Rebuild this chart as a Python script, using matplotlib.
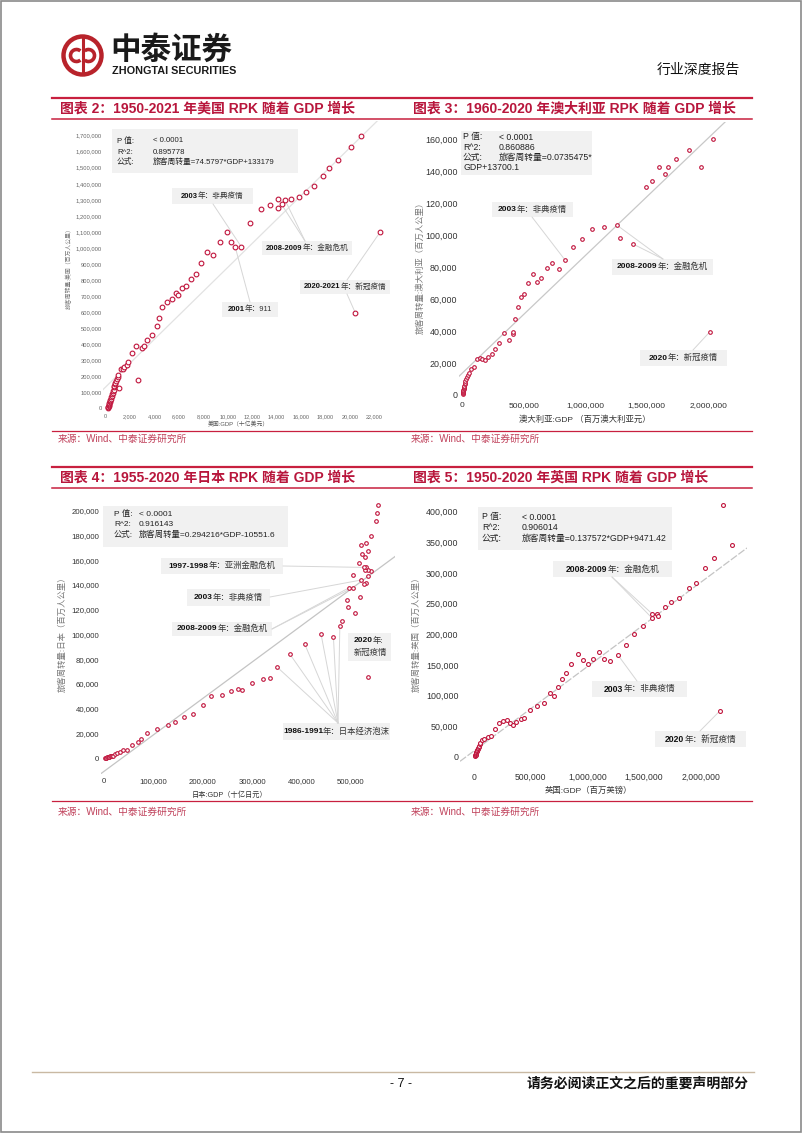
import matplotlib
matplotlib.use("Agg")
import matplotlib.pyplot as plt
import matplotlib.ticker as mticker
from matplotlib.patches import Rectangle, Circle, Arc

plt.rcParams['font.family'] = ['Liberation Sans', 'Noto Sans CJK SC']
plt.rcParams['axes.unicode_minus'] = False

# ---------------- data ----------------
# Chart 2: USA (GDP bn USD, RPK mn km), 1950-2021
us_gdp = [170, 190, 210, 230, 250, 280, 300, 330, 360, 390, 420, 450, 490, 530, 570,
          610, 650, 680, 720, 760, 800, 870, 930, 980, 1030, 1090,
          1250, 1440, 1520, 1720, 1850, 2150, 2460, 2650, 2980, 3100, 3420, 3800, 4170,
          4340, 4640, 5020, 5430, 5760, 5900, 6250, 6580, 7000, 7370, 7800, 8270, 8760,
          9330, 9930, 10250, 10600, 11100, 11850, 12700, 13450, 14100, 14400, 14100,
          14700, 15200, 15850, 16400, 17100, 17800, 18250, 19050, 20100, 20900,
          20440, 22460]
us_rpk = [2000, 6000, 11000, 16000, 21000, 28000, 33000, 40000, 47000, 54000, 61000,
          69000, 78000, 88000, 97000, 107000, 117000, 130000, 140000, 150000, 158000,
          170000, 185000, 195000, 208000, 125000,
          243000, 245000, 259000, 272000, 290000, 347000, 389000, 174000, 377000, 390000,
          426000, 456000, 513000,
          565000, 634000, 661000, 682000, 721000, 707000, 752000, 763000, 808000, 837000,
          908000, 975000, 954000, 1037000, 1101000, 1035000, 1008000, 1008000, 1157000,
          1241000, 1270000, 1249000, 1272000, 1307000, 1297000, 1305000, 1320000,
          1349000, 1386000, 1448000, 1500000, 1550000, 1627000, 1700000,
          596000, 1097000]

# Chart 3: Australia (GDP mn AUD, RPK mn km), 1960-2020
au_gdp = [5000, 6000, 7000, 8000, 9000, 10000, 12000, 14000, 16000, 19000, 22000, 26000,
          31000, 37000, 44000, 51000, 70000, 95000, 117000, 144000, 163000, 184000,
          211000, 238000, 266000, 298000, 339000, 379000, 409000, 409000, 428000, 453000,
          480000, 504000, 537000, 572000, 604000, 640000, 686000, 732000, 786000, 835000,
          902000, 973000, 1051000, 1149000, 1255000, 1282000, 1387000, 1496000, 1545000,
          1602000, 1648000, 1669000, 1734000, 1840000, 1940000, 2041000, 2011000]
au_rpk = [600, 1200, 1800, 2400, 3000, 3600, 4300, 5000, 5800, 6700, 7700, 8800,
          10000, 11300, 12500, 13600, 16100, 17700, 22300, 22900, 22300, 21700,
          23600, 25400, 28600, 32300, 38600, 34600, 38400, 39400, 47800, 54800,
          61300, 63200, 70100, 75700, 70900, 73400, 79200, 82400, 79000, 84500,
          92400, 97600, 104100, 104900, 106400, 98400, 94500, 130300, 133900,
          142400, 138300, 142400, 147600, 153500, 142900, 160000, 39400]

# Chart 4: Japan (GDP bn JPY, RPK mn km), 1955-2020
jp_gdp = [2000, 3500, 5000, 6500, 8000, 9500, 11000, 12500, 14000, 16000, 18000, 22000,
          27000, 32000, 39000, 47000, 57000, 68000, 74000, 87000, 108000, 129000, 143000,
          162000, 181000, 200000, 216000, 239000, 257000, 271000, 280000, 299000, 323000,
          336000, 350000, 377000, 407000, 440000, 465000, 478000, 482000, 509000, 495000,
          492000, 519000, 497000, 504000, 532000, 526000, 521000, 505000, 536000, 541000,
          536000, 529000, 532000, 526000, 516000, 528000, 523000, 521000, 532000, 536000,
          541000, 551000, 554000, 556000, 536000]
jp_rpk = [200, 350, 500, 650, 800, 1000, 1200, 1500, 1800, 2000, 2200, 3200,
          4600, 4800, 6500, 7000, 10500, 13500, 15900, 20200, 23400, 26900, 29600,
          33400, 36100, 43100, 50600, 51100, 54100, 56000, 55200, 61100, 64100,
          64600, 74000, 84000, 92100, 100100, 97700, 107100, 110900, 117600, 122500,
          127900, 130600, 137800, 137800, 141900, 140800, 144000, 148100, 147500, 151300,
          152100, 152100, 154200, 154200, 158000, 162900, 165000, 172300, 174200, 167400,
          179800, 191700, 197800, 204600, 65400]

# Chart 5: UK (GDP mn GBP, RPK mn km), 1950-2020
uk_gdp = [11000, 13000, 15000, 17000, 19000, 21000, 24000, 27000, 30000, 33000, 37000,
          41000, 45000, 49000, 53000, 71000, 91000, 121000, 147000, 185000, 221000,
          253000, 288000, 318000, 347000, 371000, 412000, 444000, 494000, 553000, 618000,
          671000, 706000, 738000, 774000, 812000, 856000, 915000, 959000, 1003000,
          1047000, 1106000, 1150000, 1200000, 1268000, 1338000, 1415000, 1494000,
          1568000, 1574000, 1612000, 1626000, 1685000, 1738000, 1812000, 1894000,
          1956000, 2038000, 2118000, 2279000, 2200000, 2171000]
uk_rpk = [1000, 2000, 3000, 4000, 5500, 7000, 8500, 10000, 11500, 13000, 15000,
          16500, 18000, 20000, 21800, 27200, 28300, 32600, 33700, 44600, 54400,
          58200, 59800, 54400, 51100, 56000, 62000, 63100, 75600, 82700, 88100,
          104500, 99600, 113700, 126200, 137100, 151300, 167000, 157800, 151800,
          160000, 170300, 159400, 156200, 166500, 182300, 200200, 213300,
          226900, 232900, 232900, 229600, 243700, 251900, 259500, 275800,
          284000, 308500, 324800, 345500, 410800, 75100]

# regression fits (slope, intercept)
us_fit = (74.5797, 133179)
au_fit = (0.0735475, 13700.1)
jp_fit = (0.294216, -10551.6)
uk_fit = (0.137572, 9471.42)

# ticks
us_xticks = [0, 2000, 4000, 6000, 8000, 10000, 12000, 14000, 16000, 18000, 20000, 22000]
us_yticks = [0, 100000, 200000, 300000, 400000, 500000, 600000, 700000, 800000, 900000,
             1000000, 1100000, 1200000, 1300000, 1400000, 1500000, 1600000, 1700000]
au_xticks = [0, 500000, 1000000, 1500000, 2000000]
au_yticks = [0, 20000, 40000, 60000, 80000, 100000, 120000, 140000, 160000]
jp_xticks = [0, 100000, 200000, 300000, 400000, 500000]
jp_yticks = [0, 20000, 40000, 60000, 80000, 100000, 120000, 140000, 160000, 180000, 200000]
uk_xticks = [0, 500000, 1000000, 1500000, 2000000]
uk_yticks = [0, 50000, 100000, 150000, 200000, 250000, 300000, 350000, 400000]

# texts
titles = ["图表 2：1950-2021 年美国 RPK 随着 GDP 增长",
          "图表 3：1960-2020 年澳大利亚 RPK 随着 GDP 增长",
          "图表 4：1955-2020 年日本 RPK 随着 GDP 增长",
          "图表 5：1950-2020 年英国 RPK 随着 GDP 增长"]
source_text = "来源：Wind、中泰证券研究所"
us_stats = [("P 值:", "< 0.0001"), ("R^2:", "0.895778"), ("公式:", "旅客周转量=74.5797*GDP+133179")]
au_stats = [("P 值:", "< 0.0001"), ("R^2:", "0.860886"), ("公式:", "旅客周转量=0.0735475*"), ("", "GDP+13700.1")]
jp_stats = [("P 值:", "< 0.0001"), ("R^2:", "0.916143"), ("公式:", "旅客周转量=0.294216*GDP-10551.6")]
uk_stats = [("P 值:", "< 0.0001"), ("R^2:", "0.906014"), ("公式:", "旅客周转量=0.137572*GDP+9471.42")]

# annotation targets (data coords)
us_t2003 = [(11100, 1008000)]
us_t2008 = [(14400, 1272000), (14700, 1297000)]
us_t2001 = [(10600, 1008000)]
us_tcovid = [(22460, 1097000), (20440, 596000)]
au_t2003 = [(835000, 84500)]
au_t2008 = [(1255000, 106400), (1387000, 94500)]
au_tcovid = [(2011000, 39400)]
jp_t1997 = [(526000, 154200)]
jp_t2003 = [(521000, 144000)]
jp_t2008 = [(497000, 137800), (504000, 137800)]
jp_tbubble = [(350000, 74000), (377000, 84000), (407000, 92100), (440000, 100100),
              (465000, 97700), (478000, 107100)]
uk_t2008 = [(1568000, 226900), (1574000, 232900)]
uk_t2003 = [(1268000, 166500)]
uk_tcovid = [(2171000, 75100)]

# ---------------- figure ----------------
W, H = 802, 1133
fig = plt.figure(figsize=(W / 100, H / 100), dpi=100)
fig.patch.set_facecolor('white')
RED = '#c0143c'
TITLE_RED = '#b8163c'
BOXC = '#f1f1f1'
LEAD = '#d6d6d6'

ov = fig.add_axes([0, 0, 1, 1])
ov.set_xlim(0, W)
ov.set_ylim(H, 0)
ov.axis('off')
ov.set_zorder(0)
renderer = fig.canvas.get_renderer()

# page border
ov.add_patch(Rectangle((0.8, 0.8), W - 1.6, H - 1.6, fill=False, ec='#8a8a8a', lw=1.2))

# logo
ov.add_patch(Circle((82.5, 55.5), 19, fill=False, ec='#b8232b', lw=3.2))
ov.add_patch(Arc((76.5, 55.5), 12, 12, theta1=50, theta2=310, ec='#b8232b', lw=2.6))
ov.add_patch(Arc((88.5, 55.5), 12, 12, theta1=230, theta2=130, ec='#b8232b', lw=2.6))
ov.plot([82.5, 82.5], [38, 73], color='#b8232b', lw=2.2)
ov.text(110, 50.5, "中泰证券", fontsize=22, fontweight='bold', color='#1a1a1a', va='center', ha='left')
ov.text(112, 70.5, "ZHONGTAI SECURITIES", fontsize=7.8, fontweight='bold', color='#1a1a1a',
        va='center', ha='left')
ov.text(740, 70, "行业深度报告", fontsize=10, color='#111111', va='center', ha='right')

# title bars
for (y1, y2, yt) in [(98, 119, 109), (467, 488, 478)]:
    ov.plot([52, 752], [y1, y1], color='#c8203f', lw=1.6)
    ov.plot([52, 752], [y2, y2], color='#c8203f', lw=1.1)
ov.text(60, 109, titles[0], fontsize=10, fontweight='bold', color=TITLE_RED, va='center')
ov.text(413, 109, titles[1], fontsize=10, fontweight='bold', color=TITLE_RED, va='center')
ov.text(60, 478, titles[2], fontsize=10, fontweight='bold', color=TITLE_RED, va='center')
ov.text(413, 478, titles[3], fontsize=10, fontweight='bold', color=TITLE_RED, va='center')

# source lines
for (yl, yt) in [(431, 439), (801, 812)]:
    ov.plot([52, 752], [yl, yl], color='#c8203f', lw=0.9)
    ov.text(58, yt, source_text, fontsize=7, color='#c0405a', va='center')
    ov.text(411, yt, source_text, fontsize=7, color='#c0405a', va='center')

# footer
ov.plot([32, 754], [1072, 1072], color='#c9b9a3', lw=1.0)
ov.text(401, 1084, "- 7 -", fontsize=9, color='#111111', va='center', ha='center')
ov.text(749, 1084, "请务必阅读正文之后的重要声明部分", fontsize=10, fontweight='bold',
        color='#111111', va='center', ha='right')


def mixed(x, cy, parts, fs, ha='center'):
    ts, ws = [], []
    for s, wgt, col in parts:
        t = ov.text(0, cy, s, fontsize=fs, fontweight=wgt, color=col, va='center', ha='left')
        ws.append(t.get_window_extent(renderer).width)
        ts.append(t)
    cur = x - sum(ws) / 2 if ha == 'center' else x
    for t, w in zip(ts, ws):
        t.set_x(cur)
        cur += w


def note(rect, year, rest, fs):
    x0, y0, x1, y1 = rect
    ov.add_patch(Rectangle((x0, y0), x1 - x0, y1 - y0, fc=BOXC, ec='none'))
    mixed((x0 + x1) / 2, (y0 + y1) / 2, [(year, 'bold', '#111111'), (rest, 'normal', '#333333')], fs)


def stats_box(rect, rows, c1, c2, ys, fs):
    x0, y0, x1, y1 = rect
    ov.add_patch(Rectangle((x0, y0), x1 - x0, y1 - y0, fc=BOXC, ec='none'))
    for (a, b), yy in zip(rows, ys):
        if a:
            ov.text(c1, yy, a, fontsize=fs, color='#222222', va='center')
        ov.text(c2 if a else c1, yy, b, fontsize=fs, color='#222222', va='center')


def chart(box, xa, ya, xs, ys, fit, xticks, yticks, xfs, yfs, tcol, ms, xpad, ypad,
          lcol, ls):
    left, top, right, bottom = box
    ax = fig.add_axes([left / W, 1 - bottom / H, (right - left) / W, (bottom - top) / H])
    ax.set_zorder(1)
    ax.patch.set_visible(False)
    ax.set_xticks(xticks)
    ax.set_yticks(yticks)
    (px0, v0), (px1, v1) = xa
    sx = (v1 - v0) / (px1 - px0)
    (py0, w0), (py1, w1) = ya
    sy = (w1 - w0) / (py1 - py0)
    xl = (v0 + (left - px0) * sx, v0 + (right - px0) * sx)
    yl = (w0 + (bottom - py0) * sy, w0 + (top - py0) * sy)
    ax.set_xlim(*xl)
    ax.set_ylim(*yl)
    ax.plot([xl[0], xl[1]], [fit[0] * xl[0] + fit[1], fit[0] * xl[1] + fit[1]],
            color=lcol, lw=0.9, ls=ls, zorder=1)
    ax.plot(xs, ys, 'o', ms=ms, mfc='white', mec=RED, mew=0.8, zorder=3, clip_on=False)
    fmt = mticker.StrMethodFormatter('{x:,.0f}')
    ax.xaxis.set_major_formatter(fmt)
    ax.yaxis.set_major_formatter(fmt)
    for s in ax.spines.values():
        s.set_visible(False)
    ax.tick_params(length=0, labelcolor=tcol)
    ax.tick_params(axis='x', pad=xpad, labelsize=xfs)
    ax.tick_params(axis='y', pad=ypad, labelsize=yfs)
    return ax


def leaders(ax, src, targets):
    for (dx, dy) in targets:
        ax.annotate('', xy=(dx, dy), xycoords='data', xytext=(src[0] / W, 1 - src[1] / H),
                    textcoords='figure fraction', annotation_clip=False, zorder=2,
                    arrowprops=dict(arrowstyle='-', color=LEAD, lw=0.7, shrinkA=0, shrinkB=0))


# ---- Chart 2: USA ----
stats_box((112, 129, 298, 173), us_stats, 117, 153, [141, 152, 162], 5.6)
ax_us = chart((103, 121, 390, 411), ((105.7, 0), (374.3, 22000)), ((408.3, 0), (135.7, 1700000)),
              us_gdp, us_rpk, us_fit, us_xticks, us_yticks, 4.0, 4.2, '#666666', 3.4, 2.2, 1.0,
              '#e2e2e2', '-')
note((172, 188, 253, 204), "2003", "年：非典疫情", 5.5)
note((262, 241, 352, 255), "2008-2009", "年：金融危机", 5.5)
note((222, 302, 278, 317), "2001", "年：911", 5.5)
note((300, 280, 390, 294), "2020-2021", "年：新冠疫情", 5.5)
leaders(ax_us, (213, 204), us_t2003)
leaders(ax_us, (305, 241), us_t2008)
leaders(ax_us, (250, 302), us_t2001)
leaders(ax_us, (347, 280), us_tcovid[:1])
leaders(ax_us, (347, 294), us_tcovid[1:])
ov.text(69, 267, "旅客周转量:美国（百万人公里）", fontsize=4.2, color='#777777', rotation=90,
        va='center', ha='center')
ov.text(238, 424, "美国:GDP（十亿美元）", fontsize=4.2, color='#555555', va='center', ha='center')

# ---- Chart 3: Australia ----
stats_box((461, 131, 592, 175), au_stats, 463, 499, [137, 147.5, 157.5, 167.5], 6.3)
ax_au = chart((459, 122, 730, 398), ((462.3, 0), (708.3, 2000000)), ((395, 0), (139.3, 160000)),
              au_gdp, au_rpk, au_fit, au_xticks, au_yticks, 6.0, 6.4, '#333333', 2.6, 3.2, 1.2,
              '#c8c8c8', '-')
note((492, 202, 573, 217), "2003", "年：非典疫情", 6.0)
note((612, 259, 713, 275), "2008-2009", "年：金融危机", 6.0)
note((640, 350, 727, 366), "2020", "年：新冠疫情", 6.0)
leaders(ax_au, (532, 217), au_t2003)
leaders(ax_au, (663, 259), au_t2008)
leaders(ax_au, (693, 350), au_tcovid)
ov.text(420, 266, "旅客周转量:澳大利亚（百万人公里）", fontsize=6, color='#777777', rotation=90,
        va='center', ha='center')
ov.text(585, 420, "澳大利亚:GDP （百万澳大利亚元）", fontsize=6, color='#333333', va='center',
        ha='center')

# ---- Chart 4: Japan ----
stats_box((103, 506, 288, 547), jp_stats, 114, 139, [514, 524.5, 534.5], 6.0)
ax_jp = chart((101, 500, 395, 774), ((104, 0), (350.7, 500000)), ((758.3, 0), (510.7, 200000)),
              jp_gdp, jp_rpk, jp_fit, jp_xticks, jp_yticks, 5.6, 5.6, '#333333', 2.6, 3.0, 1.2,
              '#c4c4c4', '-')
note((161, 558, 283, 574), "1997-1998", "年：亚洲金融危机", 6.0)
note((187, 589, 270, 606), "2003", "年：非典疫情", 6.0)
note((172, 622, 272, 636), "2008-2009", "年：金融危机", 6.0)
note((283, 723, 390, 740), "1986-1991", "年：日本经济泡沫", 6.0)
ov.add_patch(Rectangle((348, 633), 43, 28, fc=BOXC, ec='none'))
mixed(354, 641, [("2020", 'bold', '#111111'), ("年:", 'normal', '#333333')], 6.0, ha='left')
ov.text(354, 653, "新冠疫情", fontsize=6, color='#333333', va='center')
leaders(ax_jp, (283, 566), jp_t1997)
leaders(ax_jp, (270, 597), jp_t2003)
leaders(ax_jp, (272, 629), jp_t2008)
leaders(ax_jp, (338, 723), jp_tbubble)
ov.text(63, 632, "旅客周转量:日本（百万人公里）", fontsize=6, color='#777777', rotation=90,
        va='center', ha='center')
ov.text(230, 795, "日本:GDP（十亿日元）", fontsize=5.2, color='#333333', va='center', ha='center')

# ---- Chart 5: UK ----
stats_box((478, 507, 672, 550), uk_stats, 482, 522, [517, 528, 538], 6.3)
ax_uk = chart((460, 500, 747, 762), ((474, 0), (700.7, 2000000)), ((756.7, 0), (511.7, 400000)),
              uk_gdp, uk_rpk, uk_fit, uk_xticks, uk_yticks, 6.2, 6.4, '#333333', 2.8, 8.0, 1.2,
              '#c4c4c4', (0, (6, 1.5)))
note((553, 561, 672, 577), "2008-2009", "年：金融危机", 6.2)
note((592, 681, 687, 697), "2003", "年：非典疫情", 6.2)
note((655, 731, 746, 747), "2020", "年：新冠疫情", 6.2)
leaders(ax_uk, (612, 577), uk_t2008)
leaders(ax_uk, (637, 681), uk_t2003)
leaders(ax_uk, (700, 731), uk_tcovid)
ov.text(417, 632, "旅客周转量:英国（百万人公里）", fontsize=6, color='#777777', rotation=90,
        va='center', ha='center')
ov.text(588, 791, "英国:GDP（百万英镑）", fontsize=6, color='#333333', va='center', ha='center')

fig.savefig('out.png', dpi=100)
